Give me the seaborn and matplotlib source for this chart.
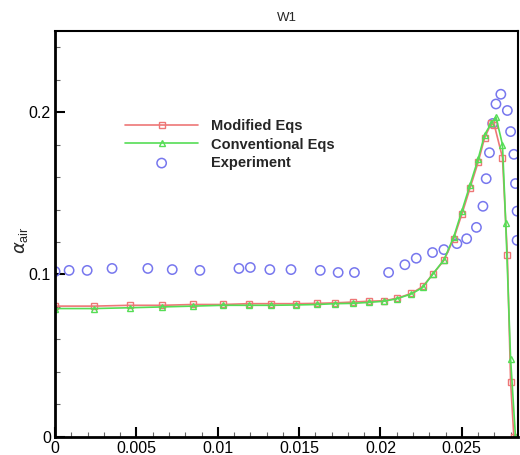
import matplotlib
matplotlib.use("Agg")
import matplotlib.pyplot as plt
from matplotlib.ticker import MultipleLocator
import seaborn as sns

# Modified Eqs (red squares)
mod_x = [0.0, 0.0024, 0.0046, 0.0066, 0.0085, 0.0103, 0.0119, 0.0133, 0.0148, 0.0161,
         0.0172, 0.0183, 0.0193, 0.0202, 0.0210, 0.0219, 0.0226, 0.0232, 0.0239, 0.0245,
         0.0250, 0.0255, 0.0260, 0.0264, 0.0268, 0.0270, 0.0275, 0.0278, 0.0280, 0.0282]
mod_y = [0.0805, 0.0805, 0.081, 0.081, 0.0815, 0.0815, 0.082, 0.082, 0.082, 0.0822,
         0.0825, 0.083, 0.0835, 0.0838, 0.0853, 0.0883, 0.0926, 0.100, 0.1086, 0.122,
         0.137, 0.153, 0.169, 0.184, 0.193, 0.192, 0.172, 0.112, 0.034, 0.0]

# Conventional Eqs (green triangles)
conv_x = [0.0, 0.0024, 0.0046, 0.0066, 0.0085, 0.0103, 0.0119, 0.0133, 0.0148, 0.0161,
          0.0172, 0.0183, 0.0193, 0.0202, 0.0210, 0.0219, 0.0226, 0.0232, 0.0239, 0.0245,
          0.0250, 0.0255, 0.0260, 0.0264, 0.0268, 0.0271, 0.0275, 0.0277, 0.0280, 0.0283]
conv_y = [0.079, 0.079, 0.0795, 0.080, 0.0805, 0.081, 0.081, 0.081, 0.0812, 0.0815,
          0.082, 0.0822, 0.0828, 0.0835, 0.085, 0.088, 0.092, 0.100, 0.109, 0.123,
          0.139, 0.155, 0.171, 0.186, 0.193, 0.197, 0.180, 0.132, 0.048, 0.0]

# Experiment (blue circles)
exp_x = [0.0, 0.00086, 0.00197, 0.0035, 0.0057, 0.0072, 0.0089, 0.0113, 0.0120, 0.0132,
         0.0145, 0.0163, 0.0174, 0.0184, 0.0205, 0.0215, 0.0222, 0.0232, 0.0239, 0.0247,
         0.0253, 0.0259, 0.0263, 0.0265, 0.0267, 0.0269, 0.0271, 0.0274, 0.0278, 0.0280,
         0.0282, 0.0283, 0.0284, 0.0284]
exp_y = [0.1018, 0.1025, 0.1025, 0.1037, 0.1037, 0.103, 0.1025, 0.1037, 0.1043, 0.103,
         0.103, 0.1025, 0.1012, 0.1012, 0.1012, 0.106, 0.110, 0.1135, 0.1153, 0.119,
         0.122, 0.129, 0.142, 0.159, 0.175, 0.193, 0.205, 0.211, 0.201, 0.188,
         0.174, 0.156, 0.139, 0.121]

sns.set_style("white")
plt.rcParams['font.family'] = ['Liberation Sans', 'DejaVu Sans']

fig = plt.figure(figsize=(5.2, 4.55), dpi=100)
ax = fig.add_axes([0.106, 0.040, 0.890, 0.892])

red = '#ee7777'
green = '#55dd55'
blue = '#7777ee'

sns.lineplot(x=mod_x, y=mod_y, ax=ax, color=red, lw=1.2, marker='s', markersize=5,
             markerfacecolor='none', markeredgecolor=red, markeredgewidth=1.0,
             estimator=None, sort=False, label='Modified Eqs')
sns.lineplot(x=conv_x, y=conv_y, ax=ax, color=green, lw=1.2, marker='^', markersize=5,
             markerfacecolor='none', markeredgecolor=green, markeredgewidth=1.0,
             estimator=None, sort=False, label='Conventional Eqs')
sns.scatterplot(x=exp_x, y=exp_y, ax=ax, marker='o', s=45, facecolor='none',
                edgecolor=blue, linewidth=1.1, label='Experiment')

ax.set_xlim(0, 0.02845)
ax.set_ylim(0, 0.25)
ax.set_xticks([0, 0.005, 0.01, 0.015, 0.02, 0.025])
ax.set_xticklabels(['0', '0.005', '0.01', '0.015', '0.02', '0.025'])
ax.set_yticks([0, 0.1, 0.2])
ax.set_yticklabels(['0', '0.1', '0.2'])
ax.xaxis.set_minor_locator(MultipleLocator(0.001))
ax.yaxis.set_minor_locator(MultipleLocator(0.02))
ax.tick_params(which='major', direction='in', length=7, width=1.5, labelsize=11.5,
               colors='black', bottom=True, left=True, top=False, right=False, pad=3)
ax.tick_params(which='minor', direction='in', length=3.5, width=0.8, color='#666666',
               bottom=True, left=True, top=False, right=False)

for side in ['left', 'bottom']:
    ax.spines[side].set_linewidth(2.0)
    ax.spines[side].set_color('black')
for side in ['top', 'right']:
    ax.spines[side].set_linewidth(1.5)
    ax.spines[side].set_color('black')

ax.set_title('W1', fontsize=9.5, pad=7)
ax.set_ylabel(r'$\alpha_{\mathregular{air}}$', fontsize=13)
ax.yaxis.set_label_coords(-0.055, 0.485)
ax.set_xlabel('')

leg = ax.legend(loc='upper left', bbox_to_anchor=(0.123, 0.815), frameon=False,
                handlelength=5.0, labelspacing=0.3, handletextpad=0.9,
                prop={'weight': 'bold', 'size': 10.5})

fig.savefig('out.png', dpi=100)
